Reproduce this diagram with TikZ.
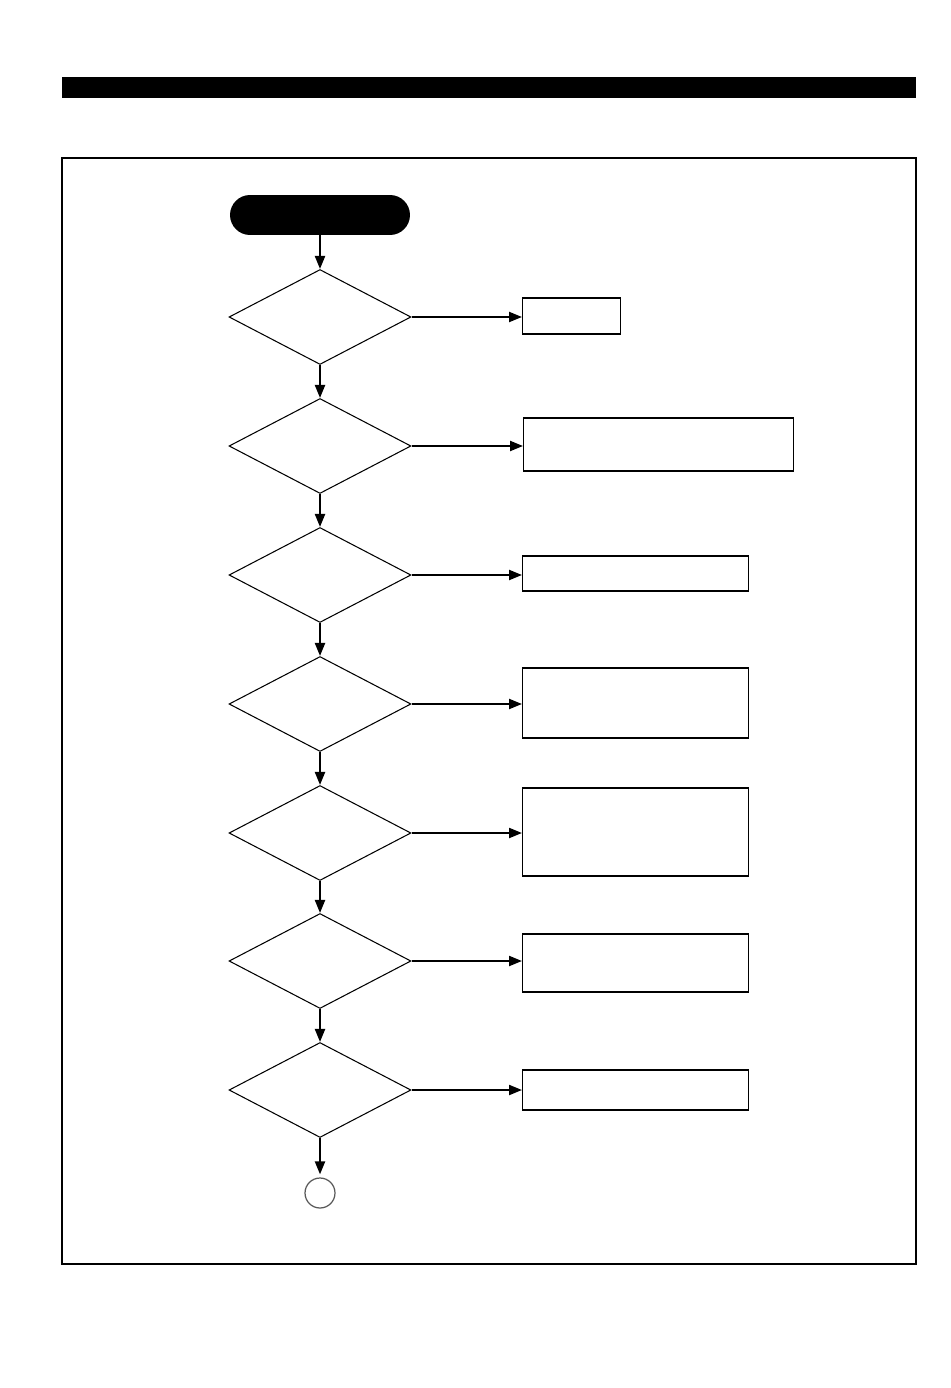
\documentclass[tikz,border=0pt]{standalone}
\usepackage{tikz}
\usetikzlibrary{shapes.geometric, arrows.meta, positioning, calc}

\begin{document}
\begin{tikzpicture}[x=0.02cm, y=-0.02cm,
    decision/.style={draw, diamond, inner sep=0pt, line width=0.6pt, minimum width=3.64cm, minimum height=1.9cm},
    actbox/.style={draw, rectangle, inner sep=0pt, line width=0.7pt, anchor=west, minimum width=4.52cm},
    flow/.style={line width=1.2pt, -{Triangle[length=0.26cm, width=0.2cm]}}]
    \useasboundingbox (0,0) rectangle (950,1388);

    % Header bar and frame
    \fill (62,77) rectangle (916,98);
    \draw[line width=0.7pt] (62,158) rectangle (916,1264);

    % Start terminal
    \node[fill=black, rounded corners=0.4cm, minimum width=3.6cm, minimum height=0.8cm, inner sep=0pt] (start) at (320,215) {};

    % Decision chain
    \node[decision] (d1) at (320,317) {};
    \node[decision] (d2) at (320,446) {};
    \node[decision] (d3) at (320,575) {};
    \node[decision] (d4) at (320,704) {};
    \node[decision] (d5) at (320,833) {};
    \node[decision] (d6) at (320,961) {};
    \node[decision] (d7) at (320,1090) {};

    % Connector to next page
    \node[draw=black!65, circle, line width=0.7pt, minimum size=0.6cm, inner sep=0pt] (next) at (320,1193) {};

    % Action boxes
    \node[actbox, minimum width=1.96cm, minimum height=0.72cm] (b1) at (522,316) {};
    \node[actbox, minimum width=5.4cm, minimum height=1.06cm] (b2) at (523,444.5) {};
    \node[actbox, minimum height=0.7cm] (b3) at (522,573.5) {};
    \node[actbox, minimum height=1.4cm] (b4) at (522,703) {};
    \node[actbox, minimum height=1.76cm] (b5) at (522,832) {};
    \node[actbox, minimum height=1.16cm] (b6) at (522,963) {};
    \node[actbox, minimum height=0.8cm] (b7) at (522,1090) {};

    % Vertical flow
    \draw[flow] (start) -- (d1);
    \draw[flow] (d1) -- (d2);
    \draw[flow] (d2) -- (d3);
    \draw[flow] (d3) -- (d4);
    \draw[flow] (d4) -- (d5);
    \draw[flow] (d5) -- (d6);
    \draw[flow] (d6) -- (d7);
    \draw[flow] (d7) -- ($(next.north)+(0,-3)$);

    % Branches
    \foreach \i in {1,...,7}
        \draw[flow] (d\i.east) -- (d\i.east -| b\i.west);
\end{tikzpicture}
\end{document}
